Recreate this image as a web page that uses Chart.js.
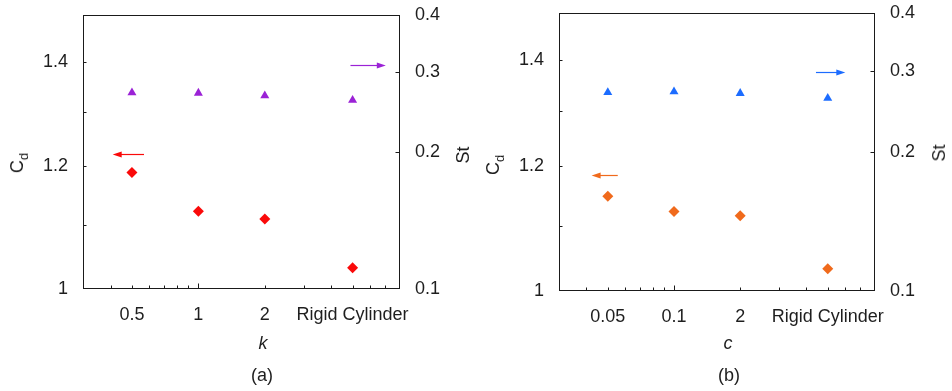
<!DOCTYPE html>
<html><head><meta charset="utf-8">
<script src="https://cdn.jsdelivr.net/npm/chart.js@4.4.1/dist/chart.umd.min.js"></script>
<style>
html,body{margin:0;padding:0;background:#fff;}
#wrap{position:relative;width:952px;height:391px;overflow:hidden;font-family:"Liberation Sans",Arial,sans-serif;color:#1e1e1e;background:#fff;}
.panel{position:absolute;top:0;width:476px;height:391px;}
.lbl{position:absolute;font-size:18px;white-space:nowrap;transform:translate(-50%,-50%);line-height:1;}
.rot{transform:translate(-50%,-50%) rotate(-90deg);}
.it{font-style:italic;}
sub{font-size:13px;vertical-align:-5px;line-height:1;}
</style></head><body>
<div id="wrap">
  <div class="panel" style="left:0"><canvas id="ca" width="476" height="391"></canvas></div>
  <div class="panel" style="left:476px"><canvas id="cb" width="476" height="391"></canvas></div>
  <div class="lbl rot" style="left:19px;top:163px">C<sub>d</sub></div>
  <div class="lbl rot" style="left:463px;top:155px">St</div>
  <div class="lbl it" style="left:263px;top:343px">k</div>
  <div class="lbl" style="left:262px;top:375px">(a)</div>
  <div class="lbl rot" style="left:495px;top:165px">C<sub>d</sub></div>
  <div class="lbl rot" style="left:939px;top:153px">St</div>
  <div class="lbl it" style="left:728px;top:343px">c</div>
  <div class="lbl" style="left:729px;top:375px">(b)</div>
</div>
<script>
// ---- data ----
const xPositions = [0.5, 1, 2, 5];
const kLabels = ['0.5', '1', '2', 'Rigid Cylinder'];
const cLabels = ['0.05', '0.1', '2', 'Rigid Cylinder'];
const cdK = [1.188, 1.122, 1.109, 1.032];
const stK = [0.270, 0.2695, 0.266, 0.260];
const cdC = [1.148, 1.123, 1.116, 1.033];
const stC = [0.2693, 0.2702, 0.268, 0.2615];
const xTickValues = [0.4, 0.5, 0.6, 0.7, 0.8, 0.9, 1, 2, 3, 4, 5, 6, 7, 8];
const cdTickValues = [1, 1.1, 1.2, 1.3, 1.4, 1.5];
const cdTickLabels = ['1', '', '1.2', '', '1.4', ''];
const stTickValues = [0.1, 0.2, 0.3, 0.4];
const stTickLabels = ['0.1', '0.2', '0.3', '0.4'];
// arrow annotations: [y value, x tail, x head]
const arrowCdK = [1.222, 0.567, 0.409];
const arrowStK = [0.3107, 4.89, 7.07];
const arrowCdC = [1.184, 0.555, 0.422];
const arrowStC = [0.298, 4.42, 6.01];

const FONT = {family: '"Liberation Sans", Arial, sans-serif', size: 18};
const TXT = '#1e1e1e';

const framePlugin = {
  id: 'frameTicks',
  afterDatasetsDraw(chart) {
    const {ctx, scales} = chart;
    const arrows = chart.options.plugins.frameTicks.arrows;
    ctx.save();
    arrows.forEach(ar => {
      const sc = scales[ar.scale];
      const y = Math.round(sc.getPixelForValue(ar.v[0])) + 0.5;
      const x0 = scales.x.getPixelForValue(ar.v[1]);
      const x1 = scales.x.getPixelForValue(ar.v[2]);
      const dir = Math.sign(x1 - x0);
      ctx.strokeStyle = ar.color; ctx.fillStyle = ar.color; ctx.lineWidth = 1.2;
      ctx.beginPath(); ctx.moveTo(x0, y); ctx.lineTo(x1 - dir * 6, y); ctx.stroke();
      ctx.beginPath(); ctx.moveTo(x1, y); ctx.lineTo(x1 - dir * 9, y - 3); ctx.lineTo(x1 - dir * 9, y + 3); ctx.closePath(); ctx.fill();
    });
    ctx.restore();
  },
  afterDraw(chart) {
    const {ctx, chartArea: a, scales} = chart;
    ctx.save();
    ctx.strokeStyle = '#1a1a1a'; ctx.lineWidth = 1;
    const L = Math.round(a.left) + 0.5, R = Math.round(a.right) - 0.5;
    const T = Math.round(a.top) + 0.5, B = Math.round(a.bottom) - 0.5;
    ctx.strokeRect(L, T, R - L, B - T);
    ctx.beginPath();
    scales.x.ticks.forEach(t => {
      const px = Math.round(scales.x.getPixelForValue(t.value)) + 0.5;
      if (px <= L + 1 || px >= R - 1) return;
      const len = t.value === 1 ? 5 : 3;
      ctx.moveTo(px, B); ctx.lineTo(px, B - len);
    });
    scales.yCd.ticks.forEach(t => {
      const py = Math.round(scales.yCd.getPixelForValue(t.value)) + 0.5;
      if (py <= T + 1 || py >= B - 1) return;
      ctx.moveTo(L, py); ctx.lineTo(L + 3, py);
    });
    scales.ySt.ticks.forEach(t => {
      const py = Math.round(scales.ySt.getPixelForValue(t.value)) + 0.5;
      if (py <= T + 1 || py >= B - 1) return;
      ctx.moveTo(R, py); ctx.lineTo(R - 4, py);
    });
    ctx.stroke();
    ctx.restore();
  }
};

function zeroPad(s) { s.paddingTop = 0; s.paddingBottom = 0; s.paddingLeft = 0; s.paddingRight = 0; }

function makeChart(id, labels, cd, st, cdColor, stColor, arrowCd, arrowSt, frame) {
  const W = 476, H = 391, PB = 30;
  return new Chart(document.getElementById(id), {
    type: 'scatter',
    data: {
      datasets: [
        {data: xPositions.map((x, i) => ({x, y: cd[i]})), yAxisID: 'yCd', pointStyle: 'rectRot',
         pointRadius: 5.5, backgroundColor: cdColor, borderColor: cdColor, borderWidth: 0},
        {data: xPositions.map((x, i) => ({x, y: st[i]})), yAxisID: 'ySt', pointStyle: 'triangle',
         pointRadius: 5.2, backgroundColor: stColor, borderColor: stColor, borderWidth: 0}
      ]
    },
    options: {
      responsive: false, animation: false, events: [],
      layout: {padding: {top: frame.top, bottom: PB, left: 0, right: 0}},
      plugins: {legend: {display: false}, tooltip: {enabled: false},
        frameTicks: {arrows: [
          {scale: 'yCd', v: arrowCd, color: cdColor},
          {scale: 'ySt', v: arrowSt, color: stColor}
        ]}},
      scales: {
        x: {type: 'logarithmic', position: 'bottom', min: 0.3, max: 8.2,
          afterBuildTicks: s => { s.ticks = xTickValues.map(v => ({value: v})); },
          afterFit: s => { s.height = H - PB - frame.bottom; zeroPad(s); },
          grid: {display: false, drawTicks: false}, border: {display: false},
          ticks: {autoSkip: false, maxRotation: 0, minRotation: 0, padding: 15, font: FONT, color: TXT,
            callback: v => { const i = xPositions.indexOf(v); return i >= 0 ? labels[i] : ''; }}},
        yCd: {type: 'logarithmic', position: 'left', min: 1, max: 1.5,
          afterBuildTicks: s => { s.ticks = cdTickValues.map(v => ({value: v})); },
          afterFit: s => { s.width = frame.left; zeroPad(s); },
          grid: {display: false, drawTicks: false}, border: {display: false},
          ticks: {autoSkip: false, padding: 15, font: FONT, color: TXT,
            callback: v => { const i = cdTickValues.indexOf(v); return i >= 0 ? cdTickLabels[i] : ''; }}},
        ySt: {type: 'logarithmic', position: 'right', min: 0.1, max: 0.4,
          afterBuildTicks: s => { s.ticks = stTickValues.map(v => ({value: v})); },
          afterFit: s => { s.width = W - frame.right; zeroPad(s); },
          grid: {display: false, drawTicks: false}, border: {display: false},
          ticks: {autoSkip: false, padding: 15, font: FONT, color: TXT,
            callback: v => { const i = stTickValues.indexOf(v); return i >= 0 ? stTickLabels[i] : ''; }}}
      }
    },
    plugins: [framePlugin]
  });
}

makeChart('ca', kLabels, cdK, stK, '#fa0a0a', '#9b22d6', arrowCdK, arrowStK,
  {left: 83, right: 400, top: 15, bottom: 289});
makeChart('cb', cLabels, cdC, stC, '#f06a1c', '#1c6cff', arrowCdC, arrowStC,
  {left: 83, right: 399, top: 13, bottom: 291});
</script>
</body></html>
